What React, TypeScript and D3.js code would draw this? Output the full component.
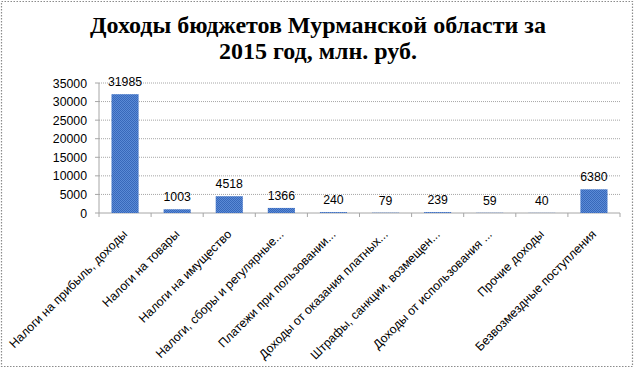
import React from "react";
import * as d3 from "d3";

const categories = [
  "Налоги на прибыль, доходы",
  "Налоги на товары",
  "Налоги на имущество",
  "Налоги, сборы и регулярные...",
  "Платежи при пользовании...",
  "Доходы от оказания платных...",
  "Штрафы, санкции, возмещен...",
  "Доходы от использования ...",
  "Прочие доходы",
  "Безвозмездные поступления",
];
const values = [31985, 1003, 4518, 1366, 240, 79, 239, 59, 40, 6380];
const yTicks = [0, 5000, 10000, 15000, 20000, 25000, 30000, 35000];
const titleLines = ["Доходы бюджетов Мурманской области за", "2015 год, млн. руб."];

const W = 635;
const H = 369;
const left = 99;
const right = 620;
const top = 83;
const bottom = 213;
const font = "'Liberation Sans', Arial, sans-serif";

export default function App() {
  const x = d3.scaleBand<string>().domain(categories).range([left, right]).paddingInner(0.48).paddingOuter(0.24);
  const step = (right - left) / categories.length;
  const y = d3.scaleLinear().domain([0, 35000]).range([bottom, top]);

  return (
    <svg width={W} height={H} style={{ position: "absolute", left: 0, top: 0, background: "#fff" }}>
      <defs>
        <pattern id="chk" width="2" height="2" patternUnits="userSpaceOnUse">
          <rect width="2" height="2" fill="#5a8ad6" />
          <rect width="1" height="1" fill="#3868ba" />
          <rect x="1" y="1" width="1" height="1" fill="#3868ba" />
        </pattern>
      </defs>
      <rect x={1.5} y={1.5} width={631} height={365} fill="#fff" stroke="#8c8c8c" strokeWidth={1.2} strokeDasharray="1.5,1.5" />
      {titleLines.map((t, i) => (
        <text key={i} x={318} y={33 + i * 26} textAnchor="middle" fontFamily="'Liberation Serif', 'Times New Roman', serif" fontWeight="bold" fontSize={24} fill="#000">
          {t}
        </text>
      ))}
      {yTicks.map((t) => (
        <g key={t}>
          {t > 0 && (
            <line x1={left} x2={right} y1={y(t)} y2={y(t)} stroke="#a6a6a6" strokeWidth={1} strokeDasharray="1,1" />
          )}
          <line x1={left - 4} x2={left} y1={y(t)} y2={y(t)} stroke="#a6a6a6" />
          <text x={left - 12} y={y(t) + 4.5} textAnchor="end" fontFamily={font} fontSize={12.3} fill="#000">
            {t}
          </text>
        </g>
      ))}
      <line x1={left} x2={left} y1={top} y2={bottom} stroke="#a6a6a6" />
      <line x1={left} x2={right} y1={bottom} y2={bottom} stroke="#a6a6a6" />
      {d3.range(categories.length + 1).map((i) => (
        <line key={i} x1={left + i * step} x2={left + i * step} y1={bottom} y2={bottom + 4} stroke="#a6a6a6" />
      ))}
      {categories.map((c, i) => {
        const v = values[i];
        const bx = x(c)!;
        const bw = x.bandwidth();
        return (
          <g key={c}>
            <rect x={bx} y={y(v)} width={bw} height={bottom - y(v)} fill="url(#chk)" />
            <text x={bx + bw / 2} y={y(v) - 8} textAnchor="middle" fontFamily={font} fontSize={12.3} fill="#000">
              {v}
            </text>
            <text
              transform={`translate(${bx + bw / 2 + 3},${bottom + 22}) rotate(-45)`}
              textAnchor="end"
              fontFamily={font}
              fontSize={12.3}
              fill="#000"
            >
              {c}
            </text>
          </g>
        );
      })}
    </svg>
  );
}
